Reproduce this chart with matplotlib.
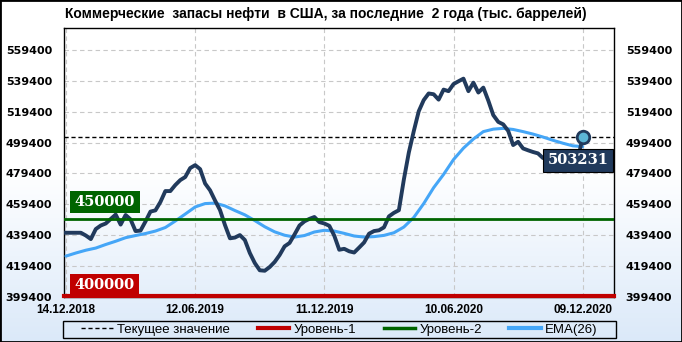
import numpy as np
import matplotlib.pyplot as plt
from matplotlib.lines import Line2D
from matplotlib.patches import Rectangle
from matplotlib.colors import LinearSegmentedColormap

# weekly commercial crude stocks, thousand barrels
stocks = [441000, 441000, 441000, 441000, 439200, 436900, 443400, 445700, 447000, 449900,
          452800, 446300, 452500, 449600, 442100, 442400, 448300, 454700, 455500, 460900,
          468000, 468000, 471900, 475100, 477100, 482900, 484800, 482200, 472900, 468500,
          461900, 455700, 446000, 437400, 437900, 439500, 436300, 427900, 421400, 416700,
          416400, 418800, 422100, 426600, 432200, 434400, 439900, 445700, 448400, 450000,
          451200, 447900, 447000, 445500, 439100, 430000, 430600, 429000, 428200, 431400,
          434700, 440400, 442100, 442600, 444500, 451600, 453900, 455600, 475400, 492900,
          506800, 519700, 526900, 531200, 530700, 527200, 533700, 532700, 537300, 539100,
          540800, 532700, 538200, 531800, 535000, 526600, 517200, 512800, 511200, 507000,
          497800, 499900, 495600, 494400, 493300, 492400, 489400, 489000, 488500, 489500,
          488700, 488000, 488700, 488000, 503231]

# EMA(26), read every 2 weeks
ema_26 = [425900, 427900, 429700, 431100, 433400, 435500, 437800, 439200, 440500, 442100,
          444400, 448600, 453100, 457700, 459900, 460200, 458400, 455400, 452600, 448900,
          444900, 441600, 439400, 438200, 439200, 441500, 442600, 442100, 440600, 438900,
          438200, 438500, 439300, 441000, 444700, 450900, 459900, 470200, 478800, 488400,
          495800, 501700, 506500, 508100, 508600, 507900, 506500, 504900, 503000, 500900,
          499000, 497300, 496800]

date_labels = ["14.12.2018", "12.06.2019", "11.12.2019", "10.06.2020", "09.12.2020"]
tick_weeks = [0, 26, 52, 78, 104]
y_ticks = [399400, 419400, 439400, 459400, 479400, 499400, 519400, 539400, 559400]
level_1 = 400000
level_2 = 450000
current = stocks[-1]

weeks = np.arange(len(stocks))
ema_weeks = np.arange(0, len(stocks), 2)

navy = '#213a5c'
ema_blue = '#45a6f7'
red = '#c00000'
green = '#006400'
sans = ['Liberation Sans', 'DejaVu Sans']

W, H = 682, 342
fig = plt.figure(figsize=(W / 100, H / 100), dpi=100)

# background gradient
bg = fig.add_axes([0, 0, 1, 1], zorder=-10)
grad = np.linspace(0, 1, 256).reshape(-1, 1)
cmap = LinearSegmentedColormap.from_list('bg', ['white', 'white', '#dbe9f9'], N=256)
bg.imshow(grad, aspect='auto', cmap=cmap, extent=[0, 1, 0, 1], origin='upper')
bg.axis('off')

ax = fig.add_axes([64 / W, 1 - 297 / H, 550 / W, 269 / H])
ax.patch.set_alpha(0)

ax.axhline(current, color='black', lw=1, ls=(0, (3, 2)), zorder=2)
ax.plot(ema_weeks, ema_26, color=ema_blue, lw=2.2, zorder=3, solid_capstyle='round')
ax.plot(weeks, stocks, color=navy, lw=2.8, zorder=4, solid_joinstyle='round')
ax.axhline(level_2, color=green, lw=2, zorder=5)
ax.axhline(level_1, color=red, lw=3, zorder=5, clip_on=False)
ax.plot(weeks[-1], current, 'o', ms=9, mfc='#5cb6d6', mec=navy, mew=2, zorder=7)

box_font = dict(family='DejaVu Serif', weight='bold', size=10.5, color='white')
ax.text((105 - 64) / 550, (297 - 202) / 269, f"{level_2}", transform=ax.transAxes,
        ha='center', va='center', zorder=8,
        bbox=dict(boxstyle='square,pad=0.3', fc=green, ec='none'), **box_font)
ax.text((104.5 - 64) / 550, (297 - 285) / 269, f"{level_1}", transform=ax.transAxes,
        ha='center', va='center', zorder=8,
        bbox=dict(boxstyle='square,pad=0.28', fc=red, ec='none'), **box_font)
ax.text((578 - 64) / 550, (297 - 160.5) / 269, f"{current}", transform=ax.transAxes,
        ha='center', va='center', zorder=8,
        bbox=dict(boxstyle='square,pad=0.28', fc=navy, ec='black', lw=0.8), **box_font)

ax.set_xlim(-0.4, 110.3)
ax.set_ylim(399400, 573600)
ax.set_yticks(y_ticks)
ax.set_yticklabels([str(v) for v in y_ticks])
ax.set_xticks(tick_weeks)
ax.set_xticklabels(date_labels)
ax.tick_params(axis='y', length=0, pad=8.5, labelsize=8, labelright=True, right=False)
ax.tick_params(axis='x', length=0, pad=5, labelsize=8.5)
for t in ax.yaxis.get_major_ticks():
    t.label1.set_fontweight('bold')
    t.label2.set_fontweight('bold')
for lab in ax.get_xticklabels():
    lab.set_fontweight('bold')
    lab.set_family(sans)

ax.grid(True, color='#c8c8c8', ls=(0, (4, 3)), lw=0.8, zorder=0)
for s in ax.spines.values():
    s.set_color('black')
    s.set_linewidth(1)

fig.text(326 / W, 1 - 14 / H,
         "Коммерческие  запасы нефти  в США, за последние  2 года (тыс. баррелей)",
         ha='center', va='center', fontsize=10, fontweight='bold', family=sans)

handles = [
    Line2D([], [], color='black', lw=1, ls=(0, (3, 2))),
    Line2D([], [], color=red, lw=3),
    Line2D([], [], color=green, lw=2.5),
    Line2D([], [], color=ema_blue, lw=3),
]
labels = ["Текущее значение", "Уровень-1", "Уровень-2", "EMA(26)"]
fig.legend(handles, labels, loc='center', bbox_to_anchor=(339.5 / W, 1 - 329.5 / H),
           ncol=4, frameon=False, prop={'family': sans, 'size': 9.5, 'weight': 'normal'},
           handlelength=2.4, handletextpad=0.3, columnspacing=2.1)
fig.patches.append(Rectangle((63 / W, 1 - 338 / H), 553 / W, 17 / H, transform=fig.transFigure,
                             fill=False, ec='black', lw=1))
fig.patches.append(Rectangle((0, 0), 1, 1, transform=fig.transFigure, fill=False,
                             ec='black', lw=2))

fig.savefig('out.png', dpi=100)
